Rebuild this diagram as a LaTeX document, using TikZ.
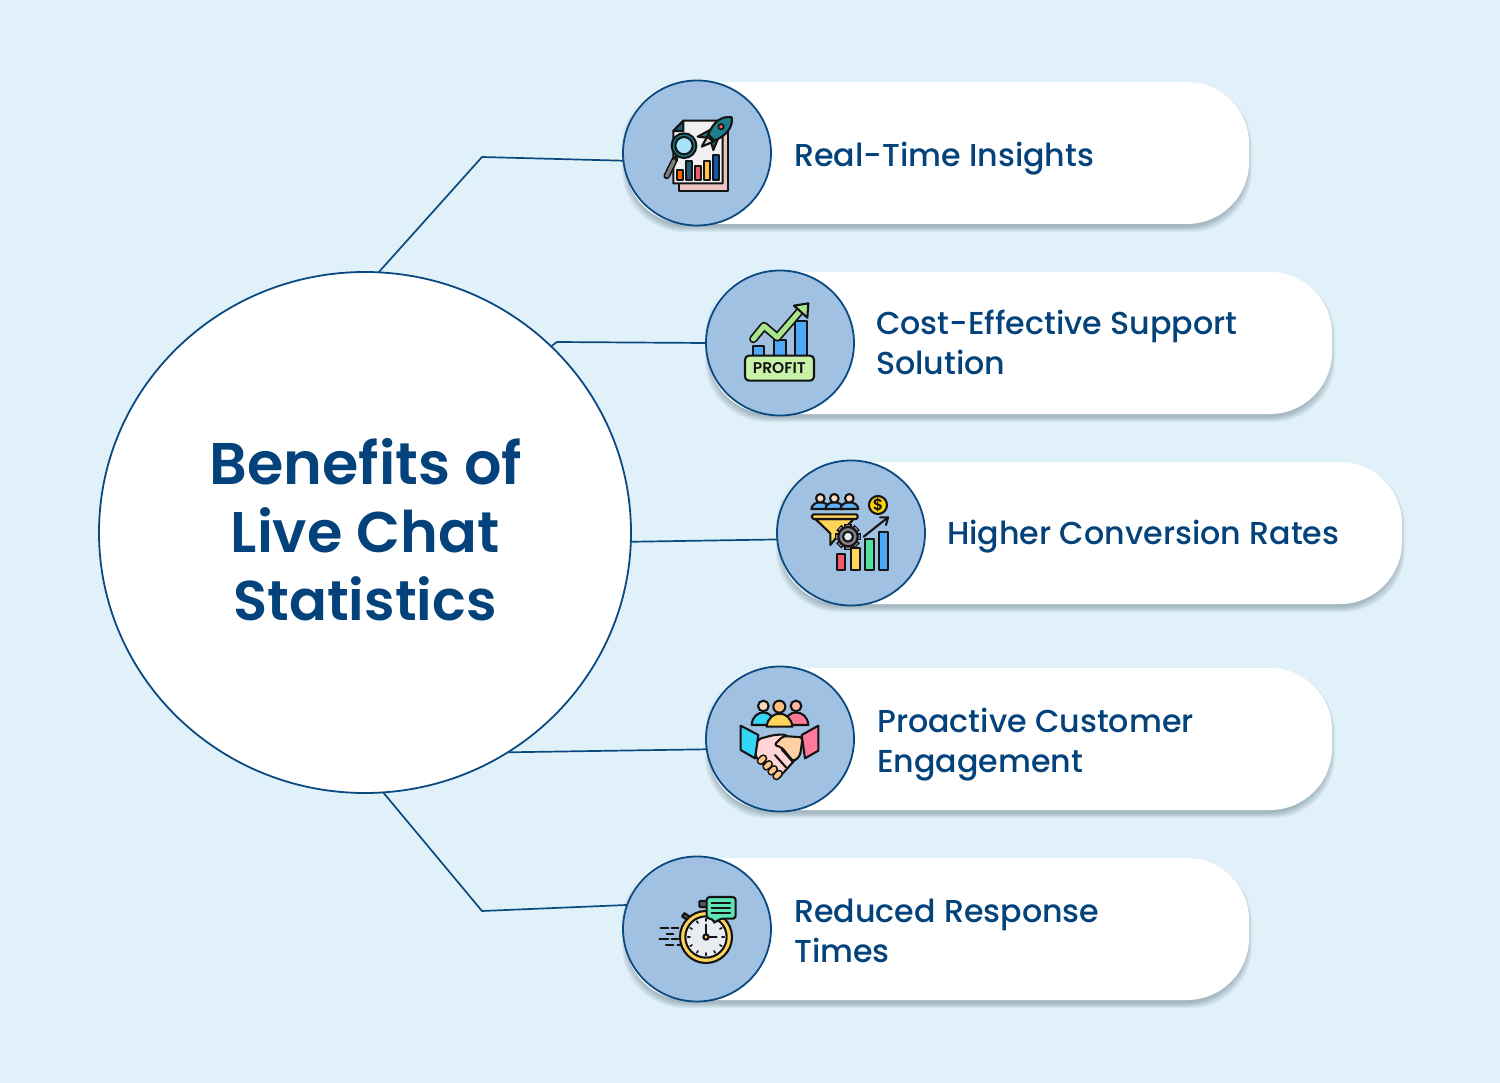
\documentclass[tikz,border=0pt]{standalone}
\usepackage{fontspec}
\setmainfont{Poppins}
\newfontfamily\titlefont{Poppins SemiBold}
\newfontfamily\bodyfont{Poppins Medium}
\usetikzlibrary{shapes.geometric}
\definecolor{bgc}{HTML}{E1F1F9}
\definecolor{navy}{HTML}{0B4A80}
\definecolor{ink}{HTML}{03427A}
\definecolor{disc}{HTML}{A0C1E1}
\definecolor{ico}{HTML}{141414}
\definecolor{cteal}{HTML}{1B7F8E}
\definecolor{cdark}{HTML}{1C5A78}
\definecolor{cyel}{HTML}{FFD45A}
\definecolor{cred}{HTML}{F55A6A}
\definecolor{cgreen}{HTML}{50E0A0}
\definecolor{cblue}{HTML}{4DA8F8}
\definecolor{cskin}{HTML}{F8D9C4}
\definecolor{cmint}{HTML}{5FE5B5}
\definecolor{cgrey}{HTML}{857F8C}
\definecolor{cpinkback}{HTML}{EBC4C0}
\definecolor{cleaf}{HTML}{A8E58C}
\definecolor{cbadge}{HTML}{C8F2A8}
\definecolor{cface}{HTML}{E9EDF2}
\definecolor{chandl}{HTML}{FFD5D5}
\definecolor{chandr}{HTML}{FFCFA5}
\definecolor{ccuffl}{HTML}{35D5F5}
\definecolor{ccuffr}{HTML}{FF7A9A}
\tikzset{
  x=1pt,y=-1pt,
  pillbox/.style={rectangle,rounded corners=62pt,fill=white,minimum height=142pt,inner sep=0pt,outer sep=0pt},
  pillglow/.style={rectangle,rounded corners=62pt,fill=black!65!cyan,fill opacity=0.075,inner sep=0pt,outer sep=0pt},
  icondisc/.style={ellipse,draw=navy,line width=1.8pt,fill=disc,minimum width=148pt,minimum height=145pt,inner sep=0pt,outer sep=0pt},
  hub/.style={ellipse,draw=navy,line width=1.8pt,fill=white,minimum width=532pt,minimum height=521pt,inner sep=0pt,outer sep=0pt},
  link/.style={draw=navy,line width=1.7pt,line join=miter},
  label/.style={anchor=base west,inner sep=0pt,text=ink,font=\bodyfont\fontsize{31.7}{38}\selectfont},
  headline/.style={anchor=base,inner sep=0pt,text=ink},
  ol/.style={draw=ico,line width=2.1pt,line join=round,line cap=round},
  thin/.style={draw=ico,line width=1.6pt,line cap=round},
  icontext/.style={inner sep=0pt,text=ico},
}
\newcommand{\pillshape}[4]{% name, left, right, centre y
  \pgfmathsetmacro{\pw}{#3-#2}\pgfmathsetmacro{\pc}{(#3+#2)/2}
  \foreach \e in {0,2,...,10}{
    \node[pillglow,minimum width=\pw-4pt+\e pt,minimum height=138pt+\e pt] at (\pc,#4+5) {};
  }
  \node[pillbox,minimum width=\pw pt] (#1) at (\pc,#4) {};
}
\begin{document}
\begin{tikzpicture}
\useasboundingbox (0,0) rectangle (1500,1083);
\fill[bgc] (0,0) rectangle (1500,1083);

\pillshape{p1}{625}{1249}{153}
\pillshape{p2}{708}{1332}{343}
\pillshape{p3}{779}{1402}{533}
\pillshape{p4}{708}{1332}{739}
\pillshape{p5}{625}{1249}{929}

\node[hub] (hubc) at (365,532.5) {};
\node[icondisc] (d1) at (697,153) {};
\node[icondisc] (d2) at (780,343) {};
\node[icondisc] (d3) at (851,533) {};
\node[icondisc] (d4) at (780,739) {};
\node[icondisc] (d5) at (697,929) {};

\coordinate (k1) at (482,157);
\coordinate (k2) at (557,342);
\coordinate (k5) at (482,911);
\draw[link] (hubc.87.4) -- (k1) -- (d1.186);
\draw[link] (hubc.45) -- (k2) -- (d2.180);
\draw[link] (hubc.-2.3) -- (d3.185);
\draw[link] (hubc.-57.3) -- (d4.188.5);
\draw[link] (hubc.-86.8) -- (k5) -- (d5.161);

\node[headline,font=\titlefont\fontsize{58.8}{66}\selectfont] (t1) at (366,484.5) {Benefits of};
\node[headline,font=\titlefont\fontsize{57.3}{66}\selectfont] (t2) at (365,552.5) {Live Chat};
\node[headline,font=\titlefont\fontsize{56}{66}\selectfont] (t3) at (365,620.5) {Statistics};

\node[label] (l1) at (794,166.7) {Real-Time Insights};
\node[label] (l2a) at (876,334.7) {Cost-Effective Support};
\node[label] (l2b) at (876,374) {Solution};
\node[label] (l3) at (947,544) {Higher Conversion Rates};
\node[label] (l4a) at (877,732) {Proactive Customer};
\node[label] (l4b) at (877,772) {Engagement};
\node[label] (l5a) at (794,922) {Reduced Response};
\node[label] (l5b) at (794,962) {Times};

% icon 1: report and rocket
\begin{scope}[shift={(620,75)},scale=1/3]
  \filldraw[ol,fill=cpinkback] (178,170) rectangle (325,348);
  \filldraw[ol,fill=white!94!black] (190,137) -- (308,137) -- (308,325) -- (160,325) -- (160,168) -- cycle;
  \filldraw[ol,fill=cdark] (190,137) -- (190,168) -- (160,168) -- cycle;
  \filldraw[ol,fill=orange!80!red] (170,285) rectangle (188,315);
  \filldraw[ol,fill=cdark] (197,258) rectangle (215,315);
  \filldraw[ol,fill=cred] (225,272) rectangle (242,315);
  \filldraw[ol,fill=cyel!80!orange] (252,258) rectangle (270,315);
  \filldraw[ol,fill=cteal!70!blue] (279,240) rectangle (298,315);
  \draw[ico,line width=6.5pt,line cap=round] (165,252) -- (140,303);
  \draw[gray,line width=3.4pt,line cap=round] (162,258) -- (140,303);
  \filldraw[ol,fill=cteal] (192,212) circle (37);
  \filldraw[ol,fill=cyan!35] (192,212) circle (26);
  \filldraw[ol,fill=cteal] (270,165) -- (233,185) -- (260,188) -- cycle;
  \filldraw[ol,fill=cteal] (295,188) -- (280,225) -- (272,198) -- cycle;
  \filldraw[ol,fill=white!85!black] (262,185) -- (245,215) -- (280,200) -- cycle;
  \filldraw[ol,fill=cteal] (335,127) .. controls (305,122) and (280,140) .. (265,178) -- (283,197) .. controls (320,182) and (340,155) .. cycle;
  \filldraw[thin,fill=cred] (303,155) circle (8);
\end{scope}

% icon 2: profit
\begin{scope}[shift={(700,265)},scale=1/3]
  \filldraw[ol,fill=cblue] (158,243) rectangle (193,275);
  \filldraw[ol,fill=cblue] (222,225) rectangle (257,275);
  \filldraw[ol,fill=cblue] (285,168) rectangle (320,275);
  \draw[ico,line width=8.5pt,line cap=round,line join=round] (160,222) -- (192,183) -- (232,217) -- (300,138);
  \draw[cleaf,line width=5pt,line cap=round,line join=round] (160,222) -- (192,183) -- (232,217) -- (300,138);
  \filldraw[ol,fill=cleaf] (282,122) -- (325,115) -- (322,158) -- cycle;
  \filldraw[ol,fill=cbadge,rounded corners=4pt] (135,272) rectangle (342,347);
  \node[icontext,font=\titlefont\fontsize{15.5}{18}\selectfont] (pf) at (238,310) {PROFIT};
\end{scope}

% icon 3: funnel and chart
\begin{scope}[shift={(772,455)},scale=1/3]
  \foreach \hx in {145,187,232}{
    \filldraw[ol,fill=cblue!90!white] (\hx-27,162) .. controls (\hx-25,135) and (\hx+25,135) .. (\hx+27,162) -- cycle;
    \filldraw[ol,fill=cskin] (\hx,130) circle (13);
  }
  \filldraw[ol,fill=cyel] (130,192) -- (245,192) -- (195,245) -- (175,270) -- (175,235) -- cycle;
  \filldraw[ol,fill=cyel,rounded corners=1.5pt] (120,178) rectangle (257,192);
  \foreach \a in {0,45,...,315}{
    \draw[ico,line width=7.5pt] (228,245) ++(\a:24) -- ++(\a:15);
    \draw[cgrey,line width=4pt] (228,245) ++(\a:24) -- ++(\a:12);
  }
  \filldraw[ol,fill=cgrey] (228,245) circle (29);
  \filldraw[ol,fill=cface] (228,245) circle (15);
  \filldraw[ol,fill=cred] (195,298) rectangle (220,345);
  \filldraw[ol,fill=cyel] (237,280) rectangle (263,345);
  \filldraw[ol,fill=cgreen] (279,253) rectangle (305,345);
  \filldraw[ol,fill=cblue] (321,230) rectangle (347,345);
  \draw[ol] (275,245) -- (348,187);
  \draw[ol] (324,187) -- (348,187) -- (342,210);
  \filldraw[ol,fill=yellow!70!orange] (318,150) circle (27);
  \node[icontext,font=\titlefont\fontsize{16}{18}\selectfont] (coin) at (318,150) {\$};
\end{scope}

% icon 4: handshake and people
\begin{scope}[shift={(700,660)},scale=1/3]
  \filldraw[ol,fill=ccuffl] (155,195) .. controls (158,145) and (222,145) .. (225,195) -- cycle;
  \filldraw[ol,fill=ccuffr] (252,195) .. controls (255,145) and (322,145) .. (325,195) -- cycle;
  \filldraw[ol,fill=cskin] (190,138) circle (16);
  \filldraw[ol,fill=cskin!85!red] (288,138) circle (16);
  \filldraw[ol,fill=cyel] (200,200) .. controls (205,148) and (272,148) .. (277,200) -- cycle;
  \filldraw[ol,fill=orange!50!white] (238,140) circle (18);
  \filldraw[ol,fill=chandl,rounded corners=4pt] (172,238) -- (225,224) -- (262,224) -- (298,285) -- (235,355) -- (165,290) -- cycle;
  \foreach \fx/\fy in {186/299,203/316,218/331,233/345}{
    \draw[ico,line width=8pt,line cap=round] (\fx-4,\fy+4) -- (\fx+4,\fy-4);
    \draw[orange!45!white,line width=4.6pt,line cap=round] (\fx-4,\fy+4) -- (\fx+4,\fy-4);
  }
  \filldraw[ol,fill=chandr,rounded corners=3pt] (222,255) -- (250,228) -- (308,232) -- (300,288) -- (280,305) -- (245,262) -- cycle;
  \draw[ol] (258,322) -- (225,285);
  \draw[ol] (278,305) -- (245,268);
  \filldraw[ol,fill=ccuffl] (122,197) -- (175,225) -- (165,295) -- (122,270) -- cycle;
  \filldraw[ol,fill=ccuffr] (355,197) -- (305,225) -- (315,295) -- (355,272) -- cycle;
\end{scope}

% icon 5: stopwatch
\begin{scope}[shift={(620,852)},scale=1/3]
  \filldraw[ol,fill=cgrey!70!black,rounded corners=1pt] (238,147) rectangle (262,165);
  \filldraw[ol,fill=cgrey!70!black,rotate around={-35:(198,194)}] (188,188) rectangle (208,200);
  \filldraw[ol,fill=cyel] (258,255) circle (78);
  \filldraw[ol,fill=cface] (258,255) circle (62);
  \foreach \a in {0,30,...,330}{
    \draw[thin] (258,255) ++(\a:48) -- ++(\a:7);
  }
  \draw[ol] (258,255) -- (258,218);
  \draw[ol] (258,255) -- (290,255);
  \filldraw[ol,fill=cyel] (258,255) circle (8);
  \filldraw[ol,fill=cmint,rounded corners=3pt] (260,135) -- (347,135) -- (347,200) -- (300,200) -- (283,214) -- (278,200) -- (260,200) -- cycle;
  \foreach \ly in {152,168,184}{
    \draw[ol] (275,\ly) -- (330,\ly);
  }
  \foreach \ax/\bx/\ly in {122/145/228,155/175/228,140/160/245,118/145/262,155/175/262,138/160/280,172/182/280}{
    \draw[ol] (\ax,\ly) -- (\bx,\ly);
  }
\end{scope}
\end{tikzpicture}
\end{document}
